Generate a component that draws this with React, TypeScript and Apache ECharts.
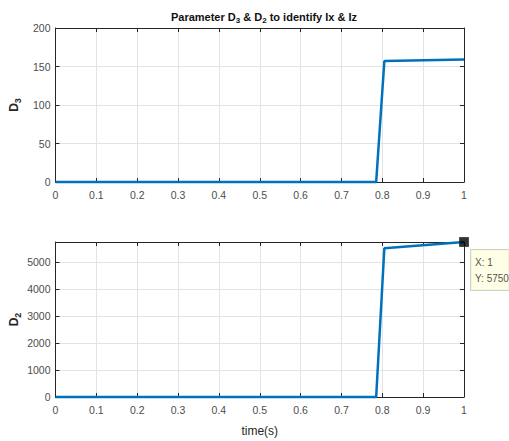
import React, { useEffect, useRef } from "react";
import * as echarts from "echarts";

const time = [0, 0.785, 0.805, 1];
const d3Values = [0, 0, 157, 159];
const d2Values = [0, 0, 5520, 5750];
const tipPoint = [1, 5750];
const xTicks = [0, 0.1, 0.2, 0.3, 0.4, 0.5, 0.6, 0.7, 0.8, 0.9, 1];

const FONT = "Liberation Sans";
const AXC = "#262626";
const LBL = "#4d4d4d";

export default function App() {
  const ref = useRef<HTMLDivElement>(null);
  useEffect(() => {
    document.body.style.margin = "0";
    const chart = echarts.init(ref.current!, null, { renderer: "svg" });
    const grids = [
      { left: 55, top: 28, width: 409, height: 154 },
      { left: 55, top: 242, width: 409, height: 155 },
    ];
    const baseX = (gi: number, pos: "bottom" | "top") => ({
      type: "value",
      gridIndex: gi,
      position: pos,
      min: 0,
      max: 1,
      interval: 0.1,
      axisLine: { show: true, onZero: false, lineStyle: { color: AXC, width: 1 } },
      axisTick: { show: true, inside: true, length: 4, lineStyle: { color: AXC } },
      axisLabel: {
        show: pos === "bottom",
        color: LBL,
        fontFamily: FONT,
        fontSize: 10.5,
        margin: 7,
        formatter: (v: number) => {
          const f = xTicks.find((t) => Math.abs(t - v) < 1e-6);
          return f === undefined ? "" : String(f);
        },
      },
      splitLine: { show: pos === "bottom", lineStyle: { color: "#e3e3e3", width: 1 } },
    });
    const baseY = (gi: number, pos: "left" | "right", max: number, interval: number) => ({
      type: "value",
      gridIndex: gi,
      position: pos,
      min: 0,
      max,
      interval,
      axisLine: { show: true, onZero: false, lineStyle: { color: AXC, width: 1 } },
      axisTick: { show: true, inside: true, length: 4, lineStyle: { color: AXC } },
      axisLabel: {
        show: pos === "left",
        color: LBL,
        fontFamily: FONT,
        fontSize: 10.5,
        margin: 5,
        showMaxLabel: max % interval === 0,
        formatter: (v: number) => String(Math.round(v)),
      },
      splitLine: { show: pos === "left", lineStyle: { color: "#e3e3e3", width: 1 } },
    });
    const yName = (sub: string) => ({
      name: `{a|D}{b|${sub}}`,
      nameLocation: "middle",
      nameGap: 33,
      nameRotate: 90,
      nameMoveOverlap: false,
      nameTextStyle: {
        rich: {
          a: { fontFamily: FONT, fontSize: 12, fontWeight: "bold", color: AXC },
          b: { fontFamily: FONT, fontSize: 9, fontWeight: "bold", color: AXC, padding: [8, 0, 0, 0] },
        },
      },
    });
    const option: any = {
      animation: false,
      backgroundColor: "#ffffff",
      title: {
        text: "{a|Parameter D}{b|3}{a| & D}{b|2}{a| to identify Ix & Iz}",
        left: 259,
        textAlign: "center",
        top: 4,
        textStyle: {
          rich: {
            a: { fontFamily: FONT, fontSize: 11, fontWeight: "bold", color: "#111" },
            b: { fontFamily: FONT, fontSize: 8, fontWeight: "bold", color: "#111", padding: [7, 0, 0, 0] },
          },
        },
      },
      grid: grids,
      xAxis: [
        baseX(0, "bottom"),
        baseX(0, "top"),
        { ...baseX(1, "bottom"), name: "time(s)", nameLocation: "middle", nameGap: 28, nameMoveOverlap: false, nameTextStyle: { fontFamily: FONT, fontSize: 12, color: AXC } },
        baseX(1, "top"),
      ],
      yAxis: [
        { ...baseY(0, "left", 200, 50), ...yName("3") },
        baseY(0, "right", 200, 50),
        { ...baseY(1, "left", 5750, 1000), ...yName("2") },
        baseY(1, "right", 5750, 1000),
      ],
      series: [
        {
          type: "line",
          xAxisIndex: 0,
          yAxisIndex: 0,
          data: time.map((t, i) => [t, d3Values[i]]),
          showSymbol: false,
          lineStyle: { color: "#0072BD", width: 2.5 },
          clip: false,
        },
        {
          type: "line",
          xAxisIndex: 2,
          yAxisIndex: 2,
          data: time.map((t, i) => [t, d2Values[i]]),
          showSymbol: false,
          lineStyle: { color: "#0072BD", width: 2.5 },
          clip: false,
        },
        {
          type: "scatter",
          xAxisIndex: 2,
          yAxisIndex: 2,
          data: [tipPoint],
          symbol: "rect",
          symbolSize: 9,
          itemStyle: { color: "#000000", borderColor: "#333", borderWidth: 1 },
          clip: false,
          z: 10,
          label: {
            show: true,
            position: "right",
            distance: 0,
            offset: [2, 28],
            formatter: () => `X: ${tipPoint[0]}\nY: ${tipPoint[1]}`,
            fontFamily: FONT,
            fontSize: 10,
            color: "#222",
            lineHeight: 16,
            align: "left",
            backgroundColor: "#ffffe1",
            borderColor: "#c8c8b4",
            borderWidth: 1,
            padding: [4, 0, 4, 4],
          },
        },
      ],
    };
    chart.setOption(option);
    return () => chart.dispose();
  }, []);
  return <div ref={ref} style={{ width: 509, height: 441 }} />;
}
